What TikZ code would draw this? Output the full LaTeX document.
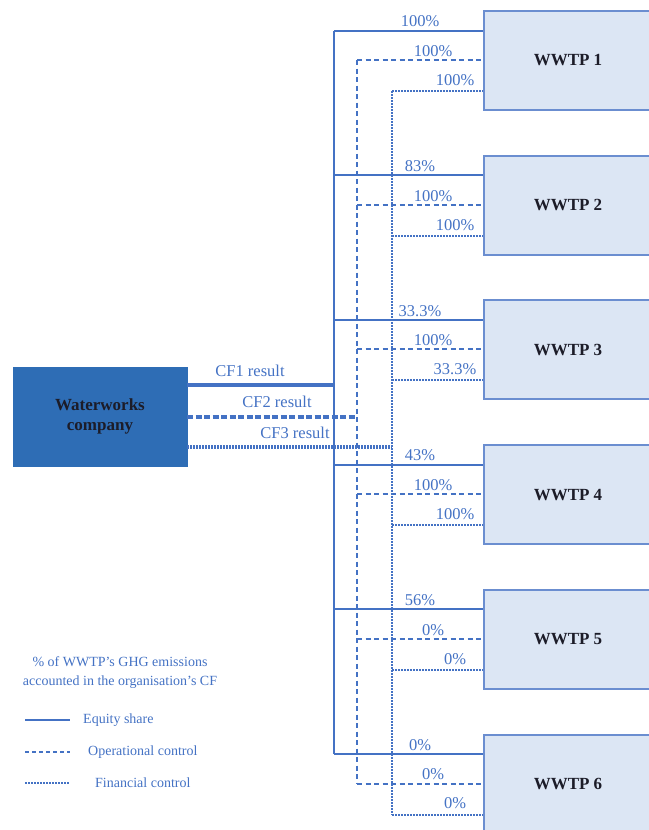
\documentclass[tikz,border=0pt]{standalone}
\usepackage{fontspec}
\setmainfont{Liberation Serif}
\definecolor{lineblue}{HTML}{4472C4}
\definecolor{boxfill}{HTML}{DCE6F4}
\definecolor{boxedge}{HTML}{6B8ED0}
\definecolor{coblue}{HTML}{2E6DB5}
\definecolor{darktext}{HTML}{1C1C28}
\tikzset{
  eqline/.style={lineblue,line width=2pt},
  opline/.style={lineblue,line width=2pt,dash pattern=on 5pt off 3.5pt},
  fcline/.style={lineblue,line width=2pt,dash pattern=on 1.5pt off 1.5pt},
  wwtp/.style={draw=boxedge,fill=boxfill,line width=2pt,minimum width=200pt,
    minimum height=99pt,anchor=west},
  plant/.style={text=darktext,inner sep=0pt,font=\fontsize{17}{20}\selectfont\bfseries},
  company/.style={draw=coblue,fill=coblue,minimum width=174pt,minimum height=99pt,
    align=center,text=darktext,font=\fontsize{17}{20}\selectfont\bfseries},
  pct/.style={text=lineblue,inner sep=0pt,font=\fontsize{16.5}{18}\selectfont},
  legtext/.style={text=lineblue,inner sep=0pt,font=\fontsize{14}{19}\selectfont}
}
\begin{document}
\begin{tikzpicture}[x=1pt,y=-1pt]
  \useasboundingbox (0,0) rectangle (648,830);
  % plants with their three links
  \foreach \i/\pe/\po/\pf in {1/100/100/100,2/83/100/100,3/33.3/100/33.3,
      4/43/100/100,5/56/0/0,6/0/0/0}{
    \pgfmathsetmacro\ty{11+144.7*(\i-1)}
    \node[wwtp] (w\i) at (483,\ty+49.5) {};
    \node[plant] (t\i) at (568,\ty+49.5) {WWTP \i};
    \coordinate (eq\i) at (334,\ty+19.5);
    \coordinate (op\i) at (357,\ty+49);
    \coordinate (fc\i) at (392,\ty+80);
    \draw[eqline] (eq\i) -- (eq\i -| w\i.west);
    \draw[opline] (op\i) -- (op\i -| w\i.west);
    \draw[fcline] (fc\i) -- (fc\i -| w\i.west);
    \node[pct] (pe\i) at (420,\ty+10.5) {\pe\%};
    \node[pct] (po\i) at (433,\ty+40) {\po\%};
    \node[pct] (pf\i) at (455,\ty+69) {\pf\%};
  }
  \draw[eqline] (eq1) -- (eq6);
  \draw[opline] (op1) -- (op6);
  \draw[fcline] (fc1) -- (fc6);
  % company and the three results
  \node[company] (wc) at (100,416.5) {Waterworks\\company};
  \coordinate (cf1) at (334,385);
  \coordinate (cf2) at (357,417);
  \coordinate (cf3) at (392,447);
  \draw[lineblue,line width=4pt] (wc.east |- cf1) -- (cf1);
  \draw[lineblue,line width=4pt,dash pattern=on 6pt off 2.5pt] (wc.east |- cf2) -- (cf2);
  \draw[lineblue,line width=4pt,dash pattern=on 1.5pt off 1.5pt] (wc.east |- cf3) -- (cf3);
  \node[pct] (r1) at (250,371) {CF1 result};
  \node[pct] (r2) at (277,402) {CF2 result};
  \node[pct] (r3) at (295,433) {CF3 result};
  % legend
  \node[legtext,align=center] (lhead) at (120,672.5)
    {\% of WWTP's GHG emissions\\accounted in the organisation's CF};
  \node[legtext,anchor=west] (leq) at (83,720) {Equity share};
  \node[legtext,anchor=west] (lop) at (88,752) {Operational control};
  \node[legtext,anchor=west] (lfc) at (95,783) {Financial control};
  \draw[eqline] (leq.west) ++(-58,0) -- ++(45,0);
  \draw[lineblue,line width=2pt,dash pattern=on 4pt off 3pt] (lop.west) ++(-63,0) -- ++(45,0);
  \draw[fcline] (lfc.west) ++(-70,0) -- ++(45,0);
\end{tikzpicture}
\end{document}
